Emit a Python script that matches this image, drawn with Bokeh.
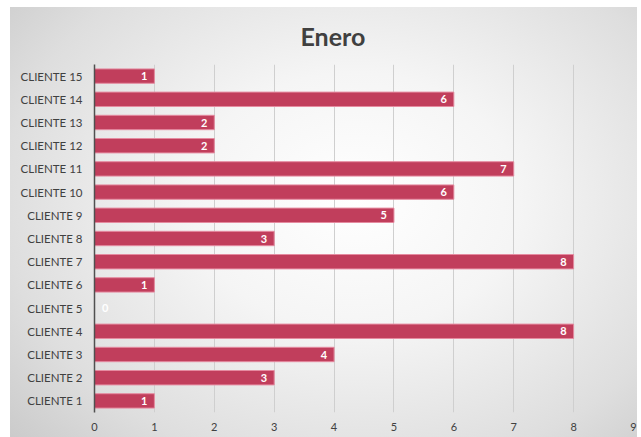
from bokeh.plotting import figure
from bokeh.models import ColumnDataSource, FixedTicker, InlineStyleSheet, Range1d
from bokeh.core.properties import value
from bokeh.embed import file_html
from bokeh.resources import INLINE

categories = ["CLIENTE 1", "CLIENTE 2", "CLIENTE 3", "CLIENTE 4", "CLIENTE 5",
              "CLIENTE 6", "CLIENTE 7", "CLIENTE 8", "CLIENTE 9", "CLIENTE 10",
              "CLIENTE 11", "CLIENTE 12", "CLIENTE 13", "CLIENTE 14", "CLIENTE 15"]
values = [1, 3, 4, 8, 0, 1, 8, 3, 5, 6, 7, 2, 2, 6, 1]
x_ticks = [0, 1, 2, 3, 4, 5, 6, 7, 8, 9]
title_text = "Enero"

FONT = "Lato"

src = ColumnDataSource(dict(
    cat=categories,
    val=values,
    lab=[str(v) for v in values],
    off=[-7 if v > 0 else 14 for v in values],
))

p = figure(width=627, height=430, y_range=categories, x_range=Range1d(0, 9),
           output_backend="svg", toolbar_location=None,
           min_border_left=84, min_border_right=4, min_border_top=57, min_border_bottom=25)
p.margin = (7, 4, 0, 10)
p.border_fill_color = None
p.background_fill_color = None
p.outline_line_color = None
p.stylesheets = [InlineStyleSheet(css=":host { background: radial-gradient(ellipse 75% 85% at 55% 45%, #ffffff 0%, #f5f5f5 35%, #dedede 75%, #c9c9c9 100%); }")]

p.title.text = title_text
p.title.align = "left"
p.title.vertical_align = "top"
p.title.text_font = FONT
p.title.text_font_size = "25px"
p.title.text_font_style = "bold"
p.title.text_color = "#404040"
p.title.offset = 206
p.title.standoff = 24

p.hbar(y="cat", right="val", left=0, height=0.62, source=src,
       fill_color="#C13E5C", line_color="#E58BA0", line_width=1)

p.text(x="val", y="cat", text="lab", source=src, x_offset="off",
       text_align="right", text_baseline="middle",
       text_font=value(FONT), text_font_size="11px", text_font_style="bold",
       text_color="white")

p.xaxis.ticker = FixedTicker(ticks=x_ticks)
p.xaxis.axis_line_color = None
p.xaxis.major_tick_line_color = None
p.xaxis.minor_tick_line_color = None
p.xaxis.major_label_text_font = FONT
p.xaxis.major_label_text_font_size = "11px"
p.xaxis.major_label_text_color = "#404040"
p.xaxis.major_label_standoff = 4

p.yaxis.axis_line_color = "#505050"
p.yaxis.axis_line_width = 1.5
p.yaxis.major_tick_line_color = None
p.yaxis.minor_tick_line_color = None
p.yaxis.major_label_text_font = FONT
p.yaxis.major_label_text_font_size = "11.5px"
p.yaxis.major_label_text_color = "#404040"
p.yaxis.major_label_standoff = 6

p.xgrid.grid_line_color = "#cfcfcf"
p.xgrid.grid_line_width = 1
p.ygrid.grid_line_color = None

open("out.html", "w").write(file_html(p, INLINE))
